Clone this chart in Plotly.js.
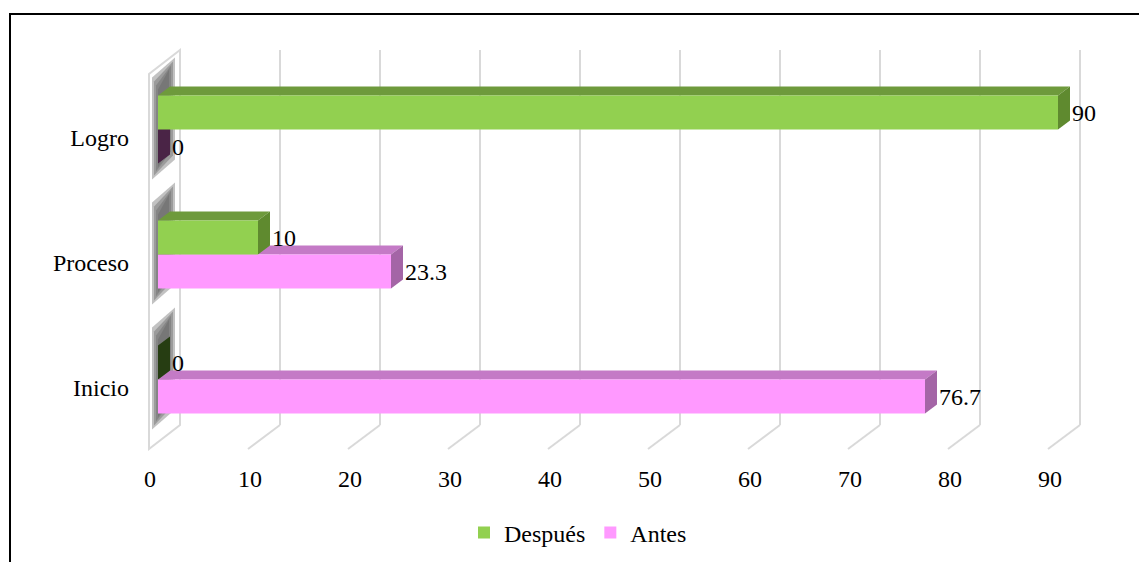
<!DOCTYPE html>
<html>
<head>
<meta charset="utf-8">
<script src="https://cdn.plot.ly/plotly-3.0.1.min.js"></script>
<style>
  html, body { margin: 0; padding: 0; background: #ffffff; }
  #wrap { position: relative; width: 1139px; height: 562px; overflow: hidden; }
  #chart { width: 1139px; height: 562px; }
  #frame { position: absolute; left: 9px; top: 13px; width: 1200px; height: 600px;
           border-left: 2px solid #000; border-top: 2px solid #000; pointer-events: none; }
</style>
</head>
<body>
<div id="wrap">
  <div id="chart"></div>
  <div id="frame"></div>
</div>
<script>
// ---- data ----
const categories = ['Inicio', 'Proceso', 'Logro'];
const antes = [76.7, 23.3, 0];
const despues = [0, 10, 90];
const xTicks = [0, 10, 20, 30, 40, 50, 60, 70, 80, 90];
const seriesNames = ['Antes', 'Después'];

// ---- style ----
const FONT = 'Liberation Serif, Times New Roman, DejaVu Serif, serif';
const FS = 24;
const colAntes = { front: '#FF99FF', top: '#C47AC6', side: '#A465A6', zero: '#4A2446' };
const colDesp  = { front: '#92D050', top: '#6E9A3C', side: '#5F8A2F', zero: '#263D12' };
const GRID = '#D9D9D9';

// geometry helpers (pixel -> axis units) for the pseudo-3D decoration
const X0PX = 158, PXPERX = 10;          // x scale
const TOP = 67, BOT = 442;              // plot area in px
const YPX = (BOT - TOP) / 3;            // px per category
const px2x = px => (px - X0PX) / PXPERX;
const px2paper = py => (BOT - py) / (BOT - TOP);
const DX = 1.2;                          // depth offset, x units
const DY = 9 / YPX;                      // depth offset, y units
const HALF = 34 / YPX / 2;               // half bar thickness (y units)

const yIdx = categories.map((c, i) => i);

const traces = [
  { type: 'bar', orientation: 'h', name: seriesNames[0], y: yIdx, x: antes,
    marker: { color: colAntes.front, line: { width: 0 } }, hoverinfo: 'x+name' },
  { type: 'bar', orientation: 'h', name: seriesNames[1], y: yIdx, x: despues,
    marker: { color: colDesp.front, line: { width: 0 } }, hoverinfo: 'x+name' }
];

const shapes = [];
// side wall
const wF = px2x(149), wB = px2x(180);
shapes.push({ type: 'path', xref: 'x', yref: 'paper', layer: 'below',
  path: `M ${wF},${px2paper(449)} L ${wF},${px2paper(74)} L ${wB},${px2paper(50)} L ${wB},${px2paper(425)} Z`,
  fillcolor: '#FFFFFF', line: { color: GRID, width: 2 } });
// soft shadows on the wall (layered to fake blur)
yIdx.forEach(k => {
  const cpx = BOT - (k + 0.5) * YPX;   // group centre px
  [[14, 0.12], [10, 0.16], [6, 0.22], [2, 0.26]].forEach(([ins, op]) => {
    const a = px2x(151 + ins * 0.5), b = px2x(176 - ins * 0.5);
    const yt = cpx - 54 + ins, yb = cpx + 52 - ins;
    shapes.push({ type: 'path', xref: 'x', yref: 'paper', layer: 'below',
      path: `M ${a},${px2paper(yb)} L ${a},${px2paper(yt)} L ${b},${px2paper(yt - 20)} L ${b},${px2paper(yb - 20)} Z`,
      fillcolor: `rgba(20,20,20,${op})`, line: { width: 0 } });
  });
});
// gridlines (back wall + floor slant)
xTicks.forEach(t => {
  const back = t + px2x(180) , front = t + px2x(148);
  shapes.push({ type: 'line', xref: 'x', yref: 'paper', layer: 'below',
    x0: back, x1: back, y0: px2paper(425), y1: px2paper(50), line: { color: GRID, width: 2 } });
  if (t > 0) {
    shapes.push({ type: 'line', xref: 'x', yref: 'paper', layer: 'below',
      x0: back, x1: front, y0: px2paper(425), y1: px2paper(449), line: { color: GRID, width: 2 } });
  }
});
// 3D faces of the bars
function faces(vals, col, off) {
  vals.forEach((v, k) => {
    const c = k + off, lo = c - HALF, hi = c + HALF;
    if (v > 0) {
      shapes.push({ type: 'path', xref: 'x', yref: 'y', layer: 'below',
        path: `M 0,${hi} L ${v},${hi} L ${v + DX},${hi + DY} L ${DX},${hi + DY} Z`,
        fillcolor: col.top, line: { width: 0 } });
    }
    shapes.push({ type: 'path', xref: 'x', yref: 'y', layer: 'below',
      path: `M ${v},${lo} L ${v},${hi} L ${v + DX},${hi + DY} L ${v + DX},${lo + DY} Z`,
      fillcolor: v > 0 ? col.side : col.zero, line: { width: 0 } });
  });
}
faces(antes, colAntes, -HALF);
faces(despues, colDesp, HALF);

// data labels
const annotations = [];
function labels(vals, off) {
  vals.forEach((v, k) => {
    annotations.push({ xref: 'x', yref: 'y', x: v, y: k + off, text: String(v),
      showarrow: false, xanchor: 'left', yanchor: 'middle', xshift: 12,
      font: { family: FONT, size: FS, color: '#000' } });
  });
}
labels(antes, -HALF);
labels(despues, HALF);

const layout = {
  width: 1139, height: 562,
  margin: { l: 148, r: 51, t: TOP, b: 562 - BOT },
  paper_bgcolor: '#FFFFFF', plot_bgcolor: 'rgba(0,0,0,0)',
  font: { family: FONT, size: FS, color: '#000' },
  barmode: 'group', bargap: 1 - 2 * 34 / YPX, bargroupgap: 0,
  xaxis: { range: [-1, 93], tickvals: xTicks, ticktext: xTicks.map(String),
    showgrid: false, zeroline: false, showline: false, ticks: '',
    ticklabelshift: -8, ticklabelstandoff: 20,
    tickfont: { family: FONT, size: FS, color: '#000' } },
  yaxis: { range: [-0.5, 2.5], tickvals: yIdx, ticktext: categories,
    showgrid: false, zeroline: false, showline: false, ticks: '',
    ticklabelshift: 8, ticklabelstandoff: 18,
    tickfont: { family: FONT, size: FS, color: '#000' } },
  showlegend: true,
  legend: { orientation: 'h', traceorder: 'reversed', xref: 'container', yref: 'container',
    x: 578 / 1139, xanchor: 'center', y: 1 - 533 / 562, yanchor: 'middle',
    itemwidth: 30, font: { family: FONT, size: FS, color: '#000' } },
  shapes: shapes,
  annotations: annotations
};

Plotly.newPlot('chart', traces, layout, { displayModeBar: false, staticPlot: true });
</script>
</body>
</html>
